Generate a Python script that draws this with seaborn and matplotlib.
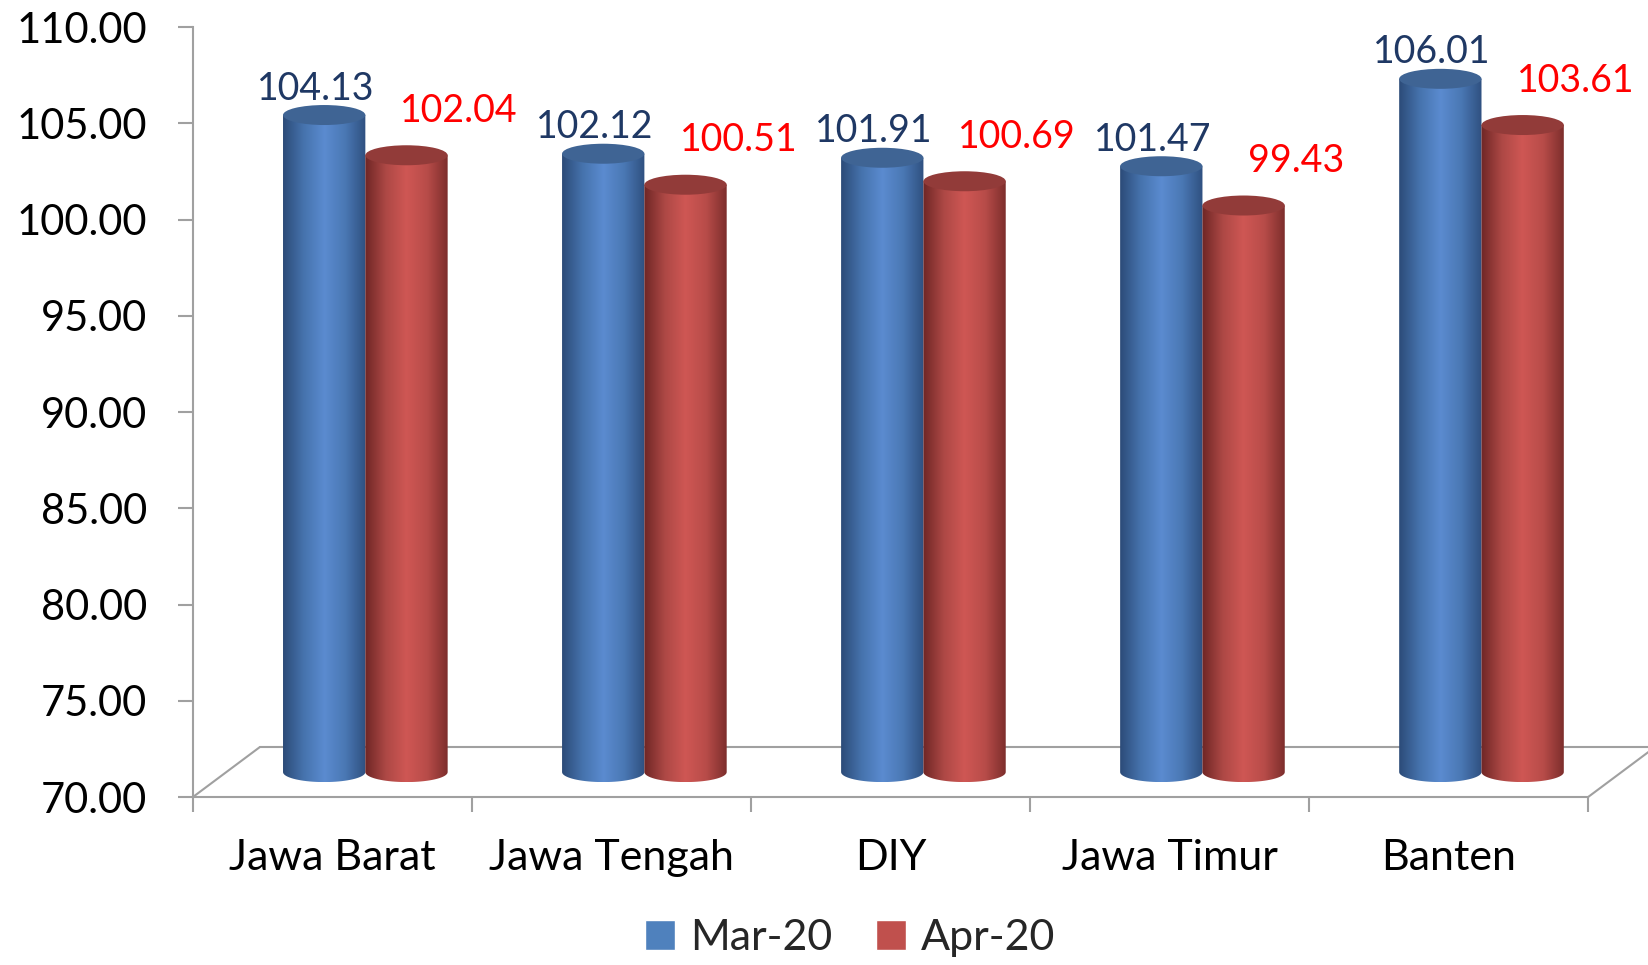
import numpy as np
import pandas as pd
import matplotlib
matplotlib.use('Agg')
import matplotlib.pyplot as plt
import seaborn as sns
from matplotlib.transforms import ScaledTranslation
from matplotlib.patches import Ellipse, PathPatch
from matplotlib.path import Path
from matplotlib.colors import LinearSegmentedColormap

regions = ['Jawa Barat', 'Jawa Tengah', 'DIY', 'Jawa Timur', 'Banten']
mar20 = [104.13, 102.12, 101.91, 101.47, 106.01]
apr20 = [102.04, 100.51, 100.69, 99.43, 103.61]
months = ['Mar-20', 'Apr-20']

df = pd.DataFrame({
    'region': regions * 2,
    'value': mar20 + apr20,
    'month': [months[0]] * 5 + [months[1]] * 5,
})

sns.set_theme(style='white')
plt.rcParams['font.family'] = ['Lato', 'DejaVu Sans']

fig = plt.figure(figsize=(16.48, 9.65), dpi=100)
ax = fig.add_axes([0.117, 0.174, 0.9636 - 0.117, 0.798])

body = ['#4f81bd', '#c0504d']
sns.barplot(data=df, x='region', y='value', hue='month', palette=body,
            width=0.59, saturation=1, ax=ax)
handles, labels = ax.get_legend_handles_labels()
ax.get_legend().remove()

ymin, ymax = 70, 110
ax.set_ylim(ymin, ymax)
ax.set_xlim(-0.5, len(regions) - 0.5)
ax.set_yticks(np.arange(70, 111, 5))
ax.set_yticklabels([f'{v:.2f}' for v in np.arange(70, 111, 5)])

# pseudo 3D depth: bars sit halfway into the floor
depth = ScaledTranslation(0.33, 0.25, fig.dpi_scale_trans)
shifted = ax.transData + depth
px_per_unit = ax.get_window_extent().height / (ymax - ymin)
ry = 10 / px_per_unit   # ellipse half height in data units

grads = [LinearSegmentedColormap.from_list('b', ['#2c4b78', '#4673ad', '#5b8bd0', '#4a78b4', '#2f5080']),
         LinearSegmentedColormap.from_list('r', ['#6e2625', '#ad4845', '#cf5754', '#b84c49', '#7d2e2c'])]
caps = ['#3f6494', '#923b39']
lab_colors = ['#1f3864', '#ff0000']
lab_offsets = [(-6, 19), (38, 32)]
grad = np.linspace(0, 1, 256).reshape(1, -1)

for k, bars in enumerate(ax.containers):
    vals = mar20 if k == 0 else apr20
    for patch, v in zip(bars, vals):
        x0, w = patch.get_x(), patch.get_width()
        xc = x0 + w / 2
        patch.set_y(ymin)
        patch.set_height(v - ymin)
        patch.set_visible(False)
        t = np.linspace(np.pi, 2 * np.pi, 40)
        verts = [(x0, v), (x0, ymin)] + list(zip(xc + w / 2 * np.cos(t), ymin + ry * np.sin(t))) + [(x0 + w, v), (x0, v)]
        clip = PathPatch(Path(verts, closed=True), transform=shifted, facecolor='none', edgecolor='none')
        ax.add_patch(clip)
        im = ax.imshow(grad, cmap=grads[k], aspect='auto', extent=(x0, x0 + w, ymin - ry, v),
                       transform=shifted, zorder=3, interpolation='bilinear')
        im.set_clip_path(clip)
        ax.add_patch(Ellipse((xc, v), w, 2 * ry, transform=shifted, facecolor=caps[k],
                             edgecolor='none', zorder=4, clip_on=False))
        ax.annotate(f'{v:.2f}', xy=(xc, v), xycoords=shifted, xytext=lab_offsets[k],
                    textcoords='offset points', ha='center', va='center',
                    fontsize=27, color=lab_colors[k], annotation_clip=False)

ax.set_xlim(-0.5, len(regions) - 0.5)
ax.set_ylim(ymin, ymax)

# floor outline
grey = '#a0a0a0'
floor = ax.transAxes + ScaledTranslation(0.67, 0.50, fig.dpi_scale_trans)
ax.plot([0, 1], [0, 0], color=grey, lw=1.5, transform=floor, clip_on=False, zorder=1)
for xa in (0, 1):
    ax.annotate('', xy=(xa, 0), xycoords=floor, xytext=(xa, 0), textcoords=ax.transAxes,
                arrowprops=dict(arrowstyle='-', color=grey, lw=1.5, shrinkA=0, shrinkB=0))

for s in ['top', 'right']:
    ax.spines[s].set_visible(False)
for s in ['left', 'bottom']:
    ax.spines[s].set_color(grey)
    ax.spines[s].set_linewidth(1.5)

ax.set_xlabel('')
ax.set_ylabel('')
ax.set_xticks(np.arange(-0.5, len(regions), 1), minor=True)
ax.tick_params(axis='x', which='major', length=0, pad=30, labelsize=31, colors='black')
ax.tick_params(axis='x', which='minor', length=11, width=1.5, color=grey, bottom=True)
ax.tick_params(axis='y', length=11, width=1.5, color=grey, pad=22, labelsize=30, left=True)
ax.tick_params(axis='y', labelcolor='black')

fig.legend(handles, labels, loc='center', bbox_to_anchor=(0.516, 0.028), ncol=2, frameon=False,
           fontsize=31, handlelength=0.7, handleheight=0.7, handletextpad=0.35, columnspacing=1.0,
           borderpad=0.1)

fig.savefig('out.png', dpi=100)
